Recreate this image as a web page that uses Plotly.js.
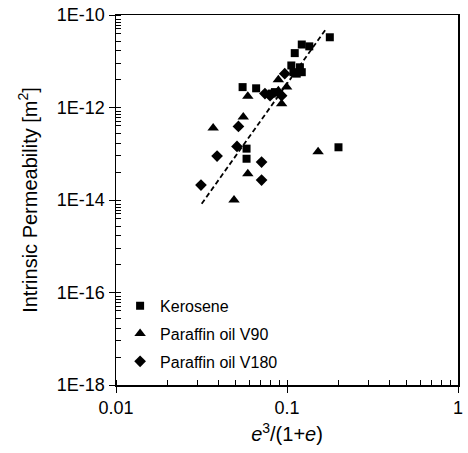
<!DOCTYPE html>
<html>
<head>
<meta charset="utf-8">
<script src="https://cdn.plot.ly/plotly-3.0.1.min.js"></script>
<style>html,body{margin:0;padding:0;background:#fff}#chart{width:468px;height:453px}</style>
</head>
<body>
<div id="chart"></div>
<script>
// Kerosene
const keroseneX = [0.178, 0.122, 0.135, 0.111, 0.106, 0.119, 0.122, 0.114, 0.109, 0.055, 0.066, 0.058, 0.058, 0.20, 0.085, 0.0815];
const keroseneY = [3.3e-11, 2.3e-11, 2.1e-11, 1.5e-11, 8.1e-12, 7.4e-12, 5.8e-12, 5.4e-12, 5.8e-12, 2.76e-12, 2.6e-12, 1.29e-13, 7.8e-14, 1.38e-13, 2.15e-12, 2.0e-12];
// Paraffin oil V90
const v90X = [0.059, 0.089, 0.0995, 0.093, 0.0555, 0.037, 0.059, 0.049, 0.152, 0.089, 0.083];
const v90Y = [1.74e-12, 4.0e-12, 2.76e-12, 1.2e-12, 6.2e-13, 3.6e-13, 3.7e-14, 1.0e-14, 1.1e-13, 2.3e-12, 2.0e-12];
// Paraffin oil V180
const v180X = [0.0314, 0.039, 0.052, 0.051, 0.071, 0.071, 0.097, 0.0743, 0.0796, 0.093];
const v180Y = [2.1e-14, 8.9e-14, 3.9e-13, 1.44e-13, 6.6e-14, 2.7e-14, 5.4e-12, 2.0e-12, 1.8e-12, 1.8e-12];
// Trend line end points
const trendX = [0.0317, 0.171];
const trendY = [8.3e-15, 5.3e-11];
// Axis ticks
const xTickVals = [0.01, 0.1, 1];
const xTickText = ['0.01', '0.1', '1'];
const yTickVals = [1e-18, 1e-16, 1e-14, 1e-12, 1e-10];
const yTickText = ['1E-18', '1E-16', '1E-14', '1E-12', '1E-10'];
const yMinorFactors = [1, 0.8, 0.7, 0.6, 0.5, 0.4, 0.27, 0.17, 0.09, 0.04];
const xMinorFactors = [1, 2, 3, 4, 5, 6, 7, 8, 9];

const yMinor = [];
yTickVals.slice(1).forEach(t => yMinorFactors.forEach(f => yMinor.push(t * f)));
yMinor.push(1e-18);
const xMinor = [];
[0.01, 0.1].forEach(t => xMinorFactors.forEach(f => xMinor.push(t * f)));
xMinor.push(1);

const FONT = 'Liberation Sans, Arial, Helvetica, sans-serif';
const traces = [
  {x: keroseneX, y: keroseneY, type: 'scatter', mode: 'markers', name: 'Kerosene', legendgroup: 'a',
   marker: {symbol: 'square', size: 8, color: '#000'}},
  {x: v90X, y: v90Y, type: 'scatter', mode: 'markers', name: 'Paraffin oil V90', legendgroup: 'b',
   marker: {symbol: 'triangle-up', size: 10, color: '#000'}},
  {x: v180X, y: v180Y, type: 'scatter', mode: 'markers', name: 'Paraffin oil V180', legendgroup: 'c',
   marker: {symbol: 'diamond', size: 9, color: '#000'}},
  {x: trendX, y: trendY, type: 'scatter', mode: 'lines', showlegend: false,
   line: {color: '#000', width: 1.8, dash: '5px,3px'}}
];
const layout = {
  width: 468, height: 453,
  margin: {l: 116, r: 10, t: 14.5, b: 68},
  paper_bgcolor: '#fff', plot_bgcolor: '#fff',
  font: {family: FONT, color: '#000', size: 18},
  showlegend: true,
  legend: {x: 0.012, y: 0.26, xanchor: 'left', yanchor: 'top', bgcolor: 'rgba(0,0,0,0)',
    font: {size: 16, family: FONT}, traceorder: 'grouped', tracegroupgap: 4},
  xaxis: {type: 'log', range: [-2, 0], tickmode: 'array', tickvals: xTickVals, ticktext: xTickText,
    ticks: 'outside', ticklen: 6, tickwidth: 1, tickcolor: '#000',
    minor: {tickmode: 'array', tickvals: xMinor, ticks: 'inside', ticklen: 5, tickwidth: 1, tickcolor: '#000', showgrid: false},
    showline: true, linecolor: '#000', linewidth: 1.5, mirror: true, showgrid: false, zeroline: false,
    tickfont: {size: 18},
    title: {text: '<i>e</i><sup>3</sup>/(1+<i>e</i>)', font: {size: 20}, standoff: 10}},
  yaxis: {type: 'log', range: [-18, -10], tickmode: 'array', tickvals: yTickVals, ticktext: yTickText,
    ticks: 'outside', ticklen: 6, tickwidth: 1, tickcolor: '#000',
    minor: {tickmode: 'array', tickvals: yMinor, ticks: 'inside', ticklen: 5, tickwidth: 1, tickcolor: '#000', showgrid: false},
    showline: true, linecolor: '#000', linewidth: 1.5, mirror: true, showgrid: false, zeroline: false,
    tickfont: {size: 18},
    title: {text: 'Intrinsic Permeability [m<sup>2</sup>]', font: {size: 20}, standoff: 14}}
};
Plotly.newPlot('chart', traces, layout, {displayModeBar: false, staticPlot: true});
</script>
</body>
</html>
